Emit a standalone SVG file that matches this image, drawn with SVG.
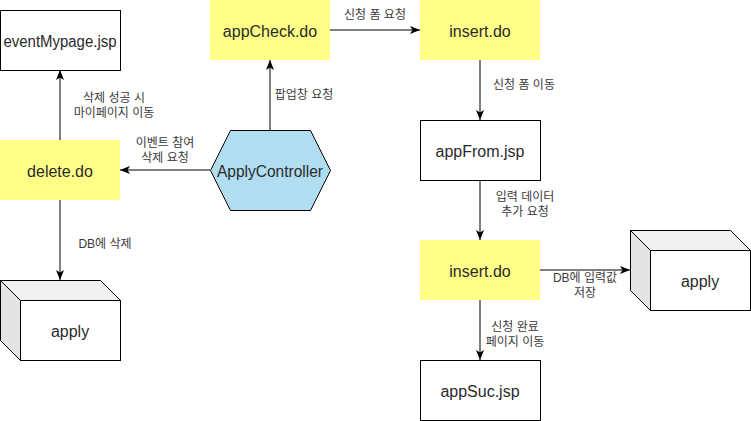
<svg xmlns="http://www.w3.org/2000/svg" width="751" height="421" viewBox="0 0 751 421">
<defs>
<style>
.box{fill:#ffffff;stroke:#000000;stroke-width:1}
.do{fill:#ffff88;stroke:none}
.hex{fill:#b1ddf0;stroke:#000000;stroke-width:1}
.t{font-family:"Liberation Sans",Arial,"Noto Sans CJK KR",sans-serif;font-size:16px;fill:#2a2a2a;text-anchor:middle;dominant-baseline:central}
.l{font-family:"Liberation Sans",Arial,"Noto Sans CJK KR",sans-serif;font-size:12px;fill:#3a3a3a;text-anchor:middle;dominant-baseline:central}
.e{fill:none;stroke:#000000;stroke-width:1}
.cf{fill:#ffffff;stroke:#000000}
.ct{fill:#f0f0f0;stroke:#000000}
.cl{fill:#e4e4e4;stroke:#000000}
</style>
<marker id="arr" viewBox="0 0 10 10" refX="10" refY="5" markerWidth="10" markerHeight="10" markerUnits="userSpaceOnUse" orient="auto">
<path d="M0,1 L10,5 L0,9 L2.5,5 Z" fill="#000000"/>
</marker>
</defs>
<rect width="751" height="421" fill="#ffffff"/>

<g id="connectors">
<path class="e" d="M330,30 L420,30" marker-end="url(#arr)"/>
<text class="l" x="375" y="15">신청 폼 요청</text>
<path class="e" d="M480,60 L480,120" marker-end="url(#arr)"/>
<text class="l" x="524" y="85">신청 폼 이동</text>
<path class="e" d="M480,180 L480,240" marker-end="url(#arr)"/>
<text class="l" x="525" y="197">입력 데이터</text>
<text class="l" x="525" y="212">추가 요청</text>
<path class="e" d="M480,300 L480,360" marker-end="url(#arr)"/>
<text class="l" x="515" y="327">신청 완료</text>
<text class="l" x="515" y="342">페이지 이동</text>
<path class="e" d="M540,270 L630,270" marker-end="url(#arr)"/>
<text class="l" x="585" y="278">DB에 입력값</text>
<text class="l" x="585" y="293">저장</text>
<path class="e" d="M270,130 L270,60" marker-end="url(#arr)"/>
<text class="l" x="304" y="95">팝업창 요청</text>
<path class="e" d="M210,170 L120,170" marker-end="url(#arr)"/>
<text class="l" x="165" y="143">이벤트 참여</text>
<text class="l" x="165" y="158">삭제 요청</text>
<path class="e" d="M60,140 L60,70" marker-end="url(#arr)"/>
<text class="l" x="114" y="98">삭제 성공 시</text>
<text class="l" x="114" y="113">마이페이지 이동</text>
<path class="e" d="M60,200 L60,280" marker-end="url(#arr)"/>
<text class="l" x="105" y="244">DB에 삭제</text>
</g>

<g id="eventMypage">
<rect class="box" x="0.5" y="10.5" width="120" height="60"/>
<text class="t" x="60" y="41" textLength="113" lengthAdjust="spacingAndGlyphs">eventMypage.jsp</text>
</g>
<g id="appCheck">
<rect class="do" x="210" y="0" width="120" height="60"/>
<text class="t" x="270" y="31">appCheck.do</text>
</g>
<g id="insert1">
<rect class="do" x="420" y="0" width="120" height="60"/>
<text class="t" x="480" y="31">insert.do</text>
</g>
<g id="appFrom">
<rect class="box" x="420.5" y="120.5" width="120" height="60"/>
<text class="t" x="480" y="151">appFrom.jsp</text>
</g>
<g id="delete">
<rect class="do" x="0" y="140" width="120" height="60"/>
<text class="t" x="60" y="171">delete.do</text>
</g>
<g id="applyController">
<polygon class="hex" points="210.5,170.5 230.5,130.5 310.5,130.5 330.5,170.5 310.5,210.5 230.5,210.5"/>
<text class="t" x="270" y="171" textLength="106" lengthAdjust="spacingAndGlyphs">ApplyController</text>
</g>
<g id="insert2">
<rect class="do" x="420" y="240" width="120" height="60"/>
<text class="t" x="480" y="271">insert.do</text>
</g>
<g id="appSuc">
<rect class="box" x="420.5" y="360.5" width="120" height="60"/>
<text class="t" x="480" y="391">appSuc.jsp</text>
</g>
<g id="applyLeft">
<polygon class="ct" points="0.5,280.5 100.5,280.5 120.5,300.5 20.5,300.5"/>
<polygon class="cl" points="0.5,280.5 20.5,300.5 20.5,360.5 0.5,340.5"/>
<rect class="cf" x="20.5" y="300.5" width="100" height="60"/>
<text class="t" x="70" y="331">apply</text>
</g>
<g id="applyRight">
<polygon class="ct" points="630.5,230.5 730.5,230.5 750.5,250.5 650.5,250.5"/>
<polygon class="cl" points="630.5,230.5 650.5,250.5 650.5,310.5 630.5,290.5"/>
<rect class="cf" x="650.5" y="250.5" width="100" height="60"/>
<text class="t" x="700" y="281">apply</text>
</g>
</svg>
